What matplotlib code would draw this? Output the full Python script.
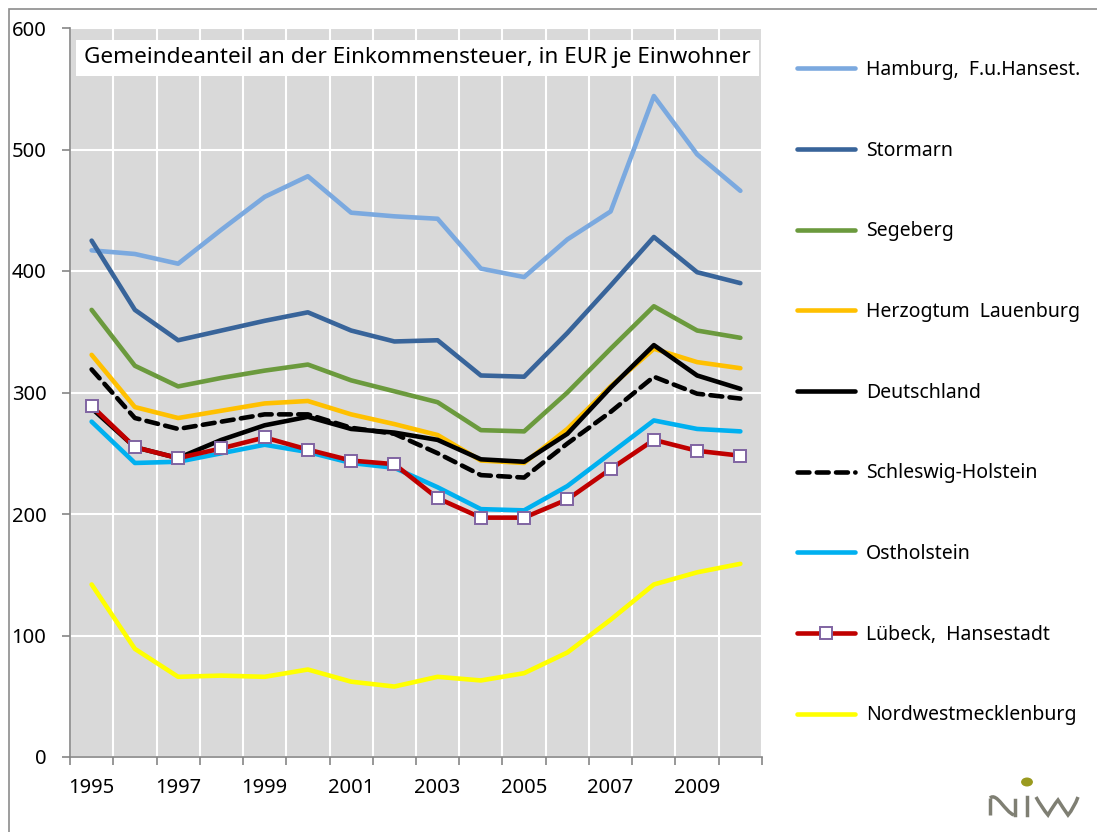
import matplotlib
matplotlib.use("Agg")
import matplotlib.pyplot as plt
from matplotlib.lines import Line2D
from matplotlib.patches import Rectangle, Circle
from matplotlib.path import Path
from matplotlib.patches import PathPatch
import numpy as np

plt.rcParams['font.family'] = ['Noto Sans', 'DejaVu Sans']

years = list(range(1995, 2011))
year_labels = ["1995", "1997", "1999", "2001", "2003", "2005", "2007", "2009"]

title = "Gemeindeanteil an der Einkommensteuer, in EUR je Einwohner"

hamburg = [417, 414, 406, 434, 461, 478, 448, 445, 443, 402, 395, 426, 449, 544, 496, 466]
stormarn = [425, 368, 343, 351, 359, 366, 351, 342, 343, 314, 313, 349, 388, 428, 399, 390]
segeberg = [368, 322, 305, 312, 318, 323, 310, 301, 292, 269, 268, 300, 336, 371, 351, 345]
lauenburg = [331, 288, 279, 285, 291, 293, 282, 274, 265, 244, 242, 270, 305, 336, 325, 320]
deutschland = [287, 255, 246, 261, 273, 280, 270, 267, 261, 245, 243, 266, 304, 339, 314, 303]
schleswig = [319, 279, 270, 276, 282, 282, 271, 266, 250, 232, 230, 258, 284, 313, 299, 295]
ostholstein = [276, 242, 243, 250, 257, 251, 242, 238, 222, 204, 203, 223, 250, 277, 270, 268]
luebeck = [289, 255, 246, 254, 263, 253, 244, 241, 213, 197, 197, 212, 237, 261, 252, 248]
nordwest = [142, 89, 66, 67, 66, 72, 62, 58, 66, 63, 69, 86, 113, 142, 152, 159]

series_names = ["Hamburg,  F.u.Hansest.", "Stormarn", "Segeberg", "Herzogtum  Lauenburg",
                "Deutschland", "Schleswig-Holstein", "Ostholstein", "Lübeck,  Hansestadt",
                "Nordwestmecklenburg"]
series_values = [hamburg, stormarn, segeberg, lauenburg, deutschland, schleswig,
                 ostholstein, luebeck, nordwest]
series_colors = ["#7BA9DF", "#38649A", "#6B9A3D", "#FFC000", "#000000", "#000000",
                 "#00B0F0", "#C00000", "#FFFF00"]

W, H = 1097, 832
fig = plt.figure(figsize=(W / 100, H / 100), dpi=100)
fig.patch.set_facecolor("white")

# outer chart frame (top and left visible)
fig.add_artist(Rectangle((9 / W, -0.1), 1.2, 1 - 9 / H + 0.1, transform=fig.transFigure,
                         fill=False, ec="#8C8C8C", lw=1.2))

ax = fig.add_axes([70 / W, 1 - 757 / H, 692 / W, 729 / H])
ax.set_facecolor("#D9D9D9")

x = np.arange(len(years))
lw = 3.3
handles = []
for name, vals, col in zip(series_names, series_values, series_colors):
    kw = dict(color=col, lw=lw, solid_joinstyle="round", solid_capstyle="round", label=name)
    if name == "Schleswig-Holstein":
        kw.update(linestyle=(0, (2.6, 1.6)), dash_capstyle="round")
    if name.startswith("Lübeck"):
        kw.update(marker="s", markersize=9, markerfacecolor="white",
                  markeredgecolor="#8064A2", markeredgewidth=1.4)
    ln, = ax.plot(x, vals, **kw)
    handles.append(ln)

ax.set_xlim(-0.5, len(years) - 0.5)
ax.set_ylim(0, 600)
ax.set_yticks(np.arange(0, 601, 100))
ax.set_xticks(np.arange(-0.5, len(years), 1.0))
ax.set_xticklabels([])
ax.set_xticks([years.index(int(y)) for y in year_labels], minor=True)
ax.set_xticklabels(year_labels, minor=True)
ax.tick_params(axis="x", which="major", length=6, width=1.2, color="#868686", direction="out")
ax.tick_params(axis="x", which="minor", length=0, pad=15, labelsize=14.5)
ax.tick_params(axis="y", length=6, width=1.2, color="#868686", pad=11, labelsize=14.5)
ax.grid(True, which="major", color="white", lw=1.5)
ax.set_axisbelow(True)
for s in ["top", "right"]:
    ax.spines[s].set_visible(False)
for s in ["left", "bottom"]:
    ax.spines[s].set_color("#868686")
    ax.spines[s].set_linewidth(1.2)

ax.text((84 - 70) / 692, (757 - 58) / 729, title, transform=ax.transAxes,
        ha="left", va="center", fontsize=16.2, color="black",
        bbox=dict(boxstyle="square,pad=0.35", fc="white", ec="none"))

leg = fig.legend(handles=handles, loc="upper left",
                 bbox_to_anchor=(797 / W, 1 - 60 / H), frameon=False,
                 fontsize=14, handlelength=3.0, handletextpad=0.55,
                 labelspacing=3.12, borderpad=0, borderaxespad=0)

# niw logo (decoration)
logo_col = "#7F7F73"
def px(xp, yp):
    return (xp / W, 1 - yp / H)
verts = [px(990, 815), px(990, 798)]
fig.add_artist(Line2D([v[0] for v in verts], [v[1] for v in verts],
                      transform=fig.transFigure, color=logo_col, lw=2.5, solid_capstyle="butt"))
p = Path([px(990, 798), px(997, 792), px(1005, 812), px(1014, 815)],
         [Path.MOVETO, Path.CURVE4, Path.CURVE4, Path.CURVE4])
fig.add_artist(PathPatch(p, transform=fig.transFigure, fill=False, ec=logo_col, lw=2.5))
fig.add_artist(Line2D([px(1015, 0)[0]] * 2, [px(0, 815)[1], px(0, 800)[1]],
                      transform=fig.transFigure, color=logo_col, lw=2.5))
fig.add_artist(Line2D([px(1027, 0)[0]] * 2, [px(0, 815)[1], px(0, 797)[1]],
                      transform=fig.transFigure, color=logo_col, lw=2.5))
w = [px(1036, 797), px(1048, 815), px(1058, 800), px(1068, 815), px(1078, 797)]
p2 = Path([w[0], px(1042, 808), w[1], w[1], px(1053, 806), w[2], w[2], px(1063, 808), w[3],
           w[3], px(1074, 808), w[4]],
          [Path.MOVETO, Path.CURVE3, Path.CURVE3, Path.LINETO, Path.CURVE3, Path.CURVE3,
           Path.LINETO, Path.CURVE3, Path.CURVE3, Path.LINETO, Path.CURVE3, Path.CURVE3])
fig.add_artist(PathPatch(p2, transform=fig.transFigure, fill=False, ec=logo_col, lw=2.5))
fig.add_artist(Circle(px(1027, 782), 4.5 / H, transform=fig.transFigure, fc="#9A9A1F", ec="none"))

fig.savefig("out.png", dpi=100, facecolor="white")
